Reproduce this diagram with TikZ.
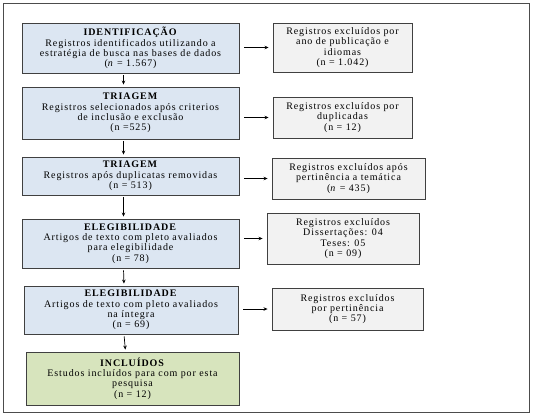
\documentclass[tikz,border=0pt]{standalone}
\usepackage{fontspec}
\setmainfont{Liberation Serif}[LetterSpace=9]
\usetikzlibrary{arrows.meta,shadows}
\definecolor{azulclaro}{HTML}{DCE6F2}
\definecolor{verdeclaro}{HTML}{D7E4BD}
\definecolor{cinzaclaro}{HTML}{F2F2F2}
\begin{document}
\begin{tikzpicture}[
    x=1pt,y=-1pt,
    caixa/.style={draw=black!75,line width=0.9pt,align=center,inner sep=1pt,
        font=\fontsize{10}{10.3}\selectfont,
        drop shadow={shadow xshift=1pt,shadow yshift=-1pt,fill=black!55,opacity=1}},
    etapa/.style={caixa,fill=azulclaro,minimum width=217pt},
    incluido/.style={caixa,fill=verdeclaro,minimum width=213pt},
    excluido/.style={caixa,fill=cinzaclaro},
    seta/.style={-{Stealth[length=4pt,width=3.5pt]},line width=0.7pt}
]
\useasboundingbox (0,0) rectangle (534,416);
\draw[black!70,line width=0.8pt] (3,3) rectangle (529,412);

\node[etapa,minimum height=50pt] (etapa1) at (130.5,48) {\textbf{IDENTIFICAÇÃO}\\Registros identificados utilizando a\\estratégia de busca nas bases de dados\\(\textit{n} = 1.567)};
\node[etapa,minimum height=52pt] (etapa2) at (130.5,113) {\textbf{TRIAGEM}\\Registros selecionados após criterios\\de inclusão e exclusão\\(n =525)};
\node[etapa,minimum height=38pt] (etapa3) at (130.5,176) {\textbf{TRIAGEM}\\Registros após duplicatas removidas\\(n = 513)};
\node[etapa,minimum height=49pt] (etapa4) at (130.5,243.5) {\textbf{ELEGIBILIDADE}\\Artigos de texto com pleto avaliados\\para elegibilidade\\(n = 78)};
\node[etapa,minimum height=48pt,minimum width=214pt] (etapa5) at (131,310) {\textbf{ELEGIBILIDADE}\\Artigos de texto com pleto avaliados\\na íntegra\\(n = 69)};
\node[incluido,minimum height=53pt] (etapa6) at (132.5,378.5) {\textbf{INCLUÍDOS}\\Estudos incluídos para com por esta\\pesquisa\\(n = 12)};

\node[excluido,minimum width=139pt,minimum height=49pt] (excl1) at (342.5,47.5) {Registros excluídos por\\ano de publicação e\\idiomas\\(n = 1.042)};
\node[excluido,minimum width=139pt,minimum height=41pt] (excl2) at (342.5,117.5) {Registros excluídos por\\duplicadas\\(n = 12)};
\node[excluido,minimum width=153pt,minimum height=41pt] (excl3) at (348.5,178.5) {Registros excluídos após\\pertinência a temática\\(\textit{n} = 435)};
\node[excluido,minimum width=152pt,minimum height=51pt] (excl4) at (343,238.5) {Registros excluídos\\Dissertações: 04\\Teses: 05\\(n = 09)};
\node[excluido,minimum width=151pt,minimum height=42pt] (excl5) at (347.5,309) {Registros excluídos\\por pertinência\\(n = 57)};

\foreach \i/\j in {1/2,2/3,3/4,4/5,5/6}
    \draw[seta,shorten <=2pt,shorten >=2pt] ([xshift=-7pt]etapa\i.south) -- ([xshift=-7pt]etapa\j.north);

\foreach \i in {1,...,5}
    \draw[seta,shorten <=5pt,shorten >=4pt] (etapa\i.east |- excl\i) -- (excl\i.west);
\end{tikzpicture}
\end{document}
